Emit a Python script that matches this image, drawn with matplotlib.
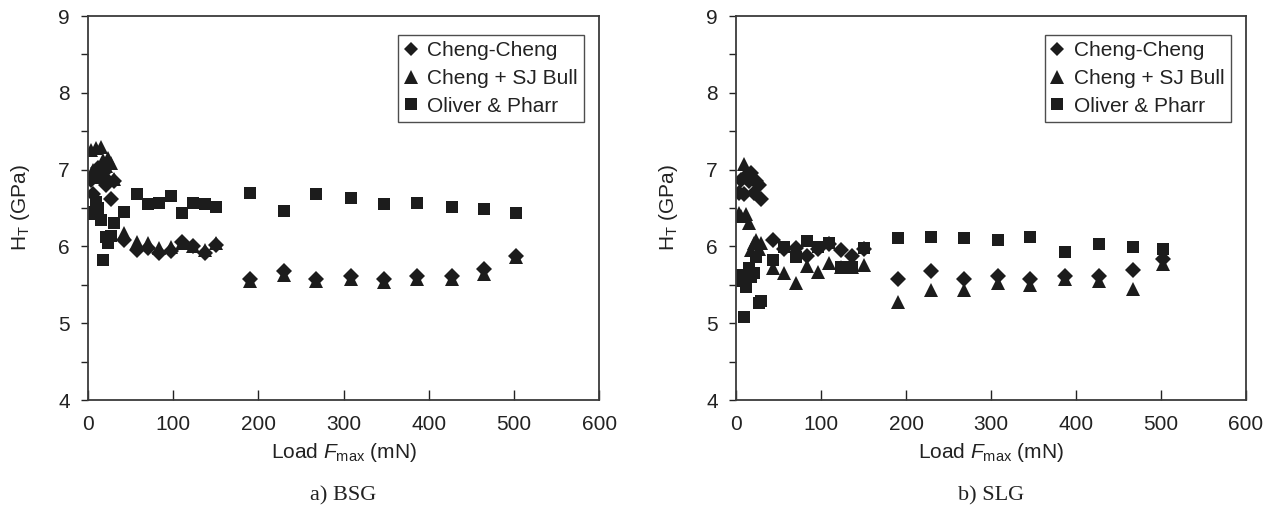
import matplotlib
matplotlib.use("Agg")
import matplotlib.pyplot as plt
from matplotlib.ticker import MultipleLocator

plt.rcParams['font.family'] = ['Liberation Sans', 'DejaVu Sans']
plt.rcParams['mathtext.fontset'] = 'custom'
plt.rcParams['mathtext.rm'] = 'Liberation Sans'
plt.rcParams['mathtext.it'] = 'Liberation Sans:italic'

# ---------------- data ----------------
series_names = ["Cheng-Cheng", "Cheng + SJ Bull", "Oliver & Pharr"]
panel_captions = ["a) BSG", "b) SLG"]

load_bsg = [3, 6, 9, 12, 15, 18, 21, 24, 27, 30, 42,
            57, 70, 83, 97, 110, 123, 137, 150,
            190, 230, 268, 309, 347, 386, 427, 465, 503]
cheng_cheng_bsg = [6.87, 6.68, 6.95, 7.02, 6.90, 6.95, 6.80, 6.85, 6.62, 6.85, 6.08,
                   5.95, 5.98, 5.91, 5.94, 6.06, 6.00, 5.91, 6.02,
                   5.58, 5.68, 5.58, 5.62, 5.58, 5.62, 5.62, 5.70, 5.88]
cheng_bull_bsg = [7.25, 7.00, 7.28, 6.90, 7.30, 7.12, 7.05, 7.15, 7.08, 6.88, 6.17,
                  6.06, 6.04, 5.98, 5.99, 6.04, 6.00, 5.95, 6.04,
                  5.55, 5.63, 5.55, 5.58, 5.53, 5.58, 5.58, 5.64, 5.86]
oliver_pharr_bsg = [6.42, 6.45, 6.58, 6.50, 6.35, 5.82, 6.12, 6.05, 6.14, 6.30, 6.45,
                    6.68, 6.55, 6.57, 6.65, 6.43, 6.57, 6.55, 6.51,
                    6.70, 6.46, 6.68, 6.63, 6.55, 6.57, 6.51, 6.49, 6.43]

load_slg = [3, 6, 9, 12, 15, 18, 21, 24, 27, 30, 43,
            57, 71, 83, 97, 110, 124, 137, 150,
            190, 229, 268, 308, 346, 387, 427, 467, 502]
cheng_cheng_slg = [6.70, 6.87, 6.68, 6.92, 6.85, 6.95, 6.70, 6.85, 6.80, 6.62, 6.08,
                   5.97, 5.98, 5.88, 5.97, 6.03, 5.95, 5.88, 5.96,
                   5.58, 5.68, 5.57, 5.62, 5.58, 5.62, 5.62, 5.69, 5.83]
cheng_bull_slg = [6.43, 6.40, 7.07, 6.42, 6.30, 5.95, 6.05, 6.08, 5.97, 6.05, 5.72,
                  5.65, 5.52, 5.75, 5.67, 5.78, 5.73, 5.73, 5.76,
                  5.28, 5.43, 5.43, 5.52, 5.50, 5.57, 5.55, 5.45, 5.77]
oliver_pharr_slg = [5.63, 5.55, 5.08, 5.47, 5.72, 5.60, 5.65, 5.86, 5.26, 5.29, 5.82,
                    5.99, 5.86, 6.07, 5.99, 6.04, 5.73, 5.73, 5.98,
                    6.11, 6.12, 6.11, 6.08, 6.12, 5.93, 6.03, 5.99, 5.97]

x_ticks = [0, 100, 200, 300, 400, 500, 600]
y_ticks = [4, 5, 6, 7, 8, 9]

panels = [
    (load_bsg, [cheng_cheng_bsg, cheng_bull_bsg, oliver_pharr_bsg]),
    (load_slg, [cheng_cheng_slg, cheng_bull_slg, oliver_pharr_slg]),
]

# ---------------- styling ----------------
markers = ['D', '^', 's']
msizes = [7.8, 10.5, 8.8]
mcolor = '#1c1c1c'
tcolor = '#222222'

fig = plt.figure(figsize=(12.76, 5.12), dpi=100)
axes_rects = [[0.0690, 0.21875, 0.4005, 0.75],
              [0.5768, 0.21875, 0.3997, 0.75]]

for (loads, ys), rect, cap in zip(panels, axes_rects, panel_captions):
    ax = fig.add_axes(rect)
    for name, yv, mk, ms in zip(series_names, ys, markers, msizes):
        ax.plot(loads, yv, linestyle='none', marker=mk, markersize=ms,
                color=mcolor, markeredgewidth=0, label=name)
    ax.set_xlim(0, 600)
    ax.set_ylim(4, 9)
    ax.set_xticks(x_ticks)
    ax.set_yticks(y_ticks)
    ax.yaxis.set_minor_locator(MultipleLocator(0.5))
    ax.tick_params(axis='x', direction='in', length=7, width=1, labelsize=15,
                   colors=tcolor, pad=11)
    ax.tick_params(axis='y', which='major', direction='out', length=5, width=1,
                   labelsize=15, colors=tcolor, pad=8)
    ax.tick_params(axis='y', which='minor', direction='out', length=5, width=1,
                   colors=tcolor)
    for sp in ax.spines.values():
        sp.set_color('#3a3a3a')
        sp.set_linewidth(1.3)
    ax.set_xlabel(r'Load $F_{\mathrm{max}}$ (mN)', fontsize=15, color=tcolor,
                  labelpad=5)
    ax.set_ylabel(r'H$_{\mathrm{T}}$ (GPa)', fontsize=15, color=tcolor,
                  labelpad=19)
    leg = ax.legend(loc='upper right', bbox_to_anchor=(0.9706, 0.9505),
                    borderaxespad=0, fontsize=15, frameon=True, fancybox=False,
                    edgecolor=tcolor, handlelength=0.6, handletextpad=0.5,
                    markerscale=0.9, borderpad=0.3, labelspacing=0.42)
    leg.get_frame().set_linewidth(1.0)
    for t in leg.get_texts():
        t.set_color(tcolor)
    ax.text(0.5, -0.25, cap, transform=ax.transAxes, ha='center', va='center',
            fontsize=16, family=['Liberation Serif', 'DejaVu Serif'],
            color=tcolor)

fig.savefig('out.png', dpi=100)
